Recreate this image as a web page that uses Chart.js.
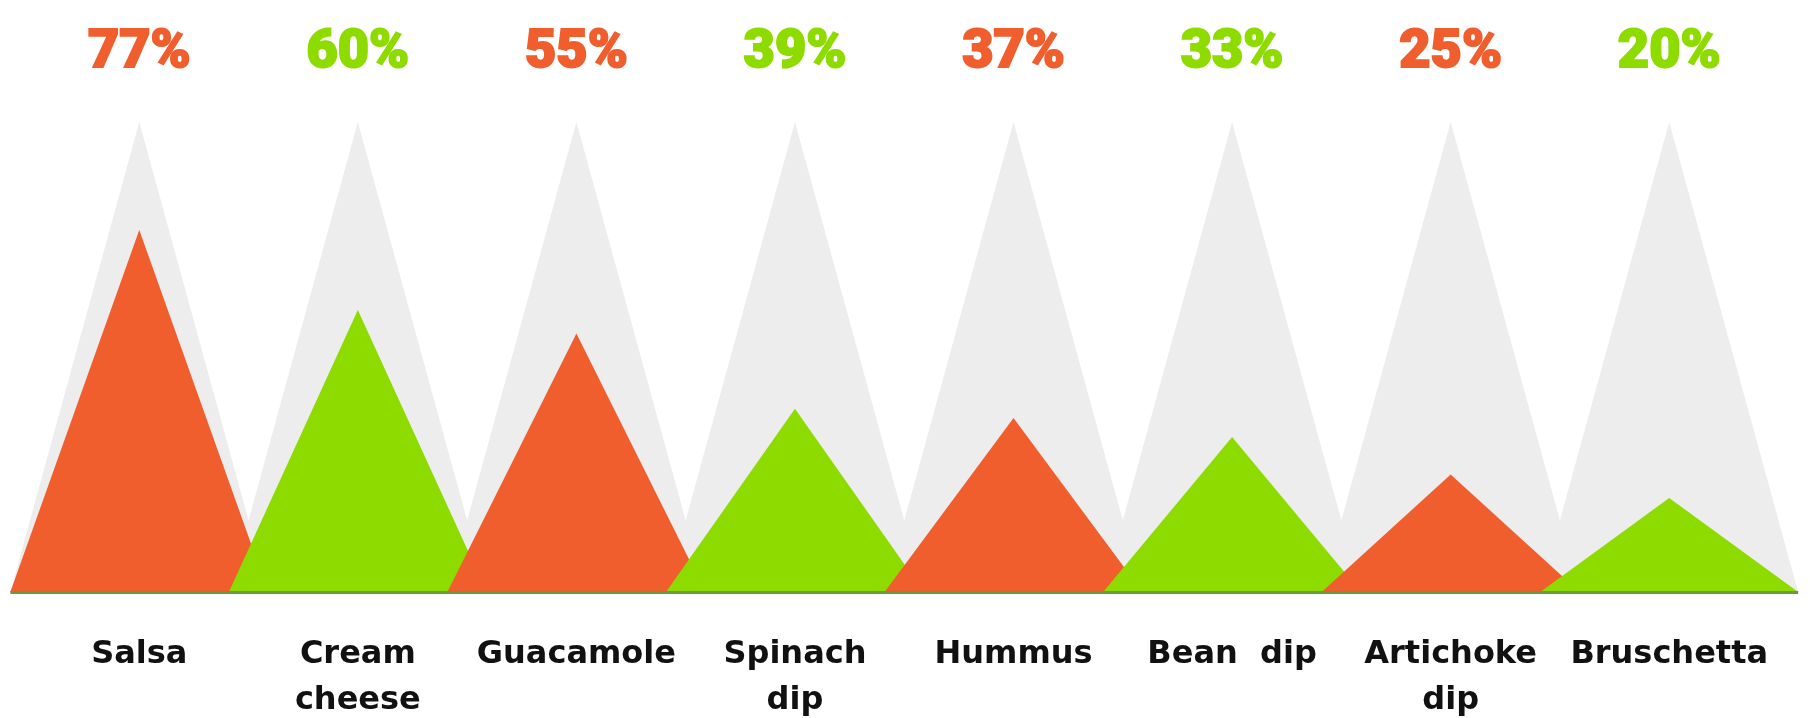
<!DOCTYPE html>
<html>
<head>
<meta charset="utf-8">
<script src="https://cdn.jsdelivr.net/npm/chart.js@4.4.1/dist/chart.umd.min.js"></script>
<style>
  html, body { margin: 0; padding: 0; background: #ffffff; }
  #wrap { width: 1810px; height: 718px; position: relative; }
</style>
</head>
<body>
<div id="wrap"><canvas id="c" width="1810" height="718"></canvas></div>
<script>
// ---- data ----
const categories = [
  ['Salsa'],
  ['Cream', 'cheese'],
  ['Guacamole'],
  ['Spinach', 'dip'],
  ['Hummus'],
  ['Bean  dip'],
  ['Artichoke', 'dip'],
  ['Bruschetta']
];
const values = [77, 60, 55, 39, 37, 33, 25, 20];
const maxValues = [100, 100, 100, 100, 100, 100, 100, 100];
const percentLabels = ['77%', '60%', '55%', '39%', '37%', '33%', '25%', '20%'];

// ---- styles ----
const ORANGE = '#F05E2E';
const GREEN = '#8EDB00';
const GRAY = '#EDEDED';
const BASELINE = '#679A43';
const barColors = [ORANGE, GREEN, ORANGE, GREEN, ORANGE, GREEN, ORANGE, GREEN];

const trianglePlugin = {
  id: 'triangles',
  beforeDatasetsDraw(chart) {
    const ctx = chart.ctx;
    const order = [1, 0]; // background peaks first, then values
    let minX = Infinity, maxX = -Infinity, baseY = 0;
    order.forEach(di => {
      const meta = chart.getDatasetMeta(di);
      const ds = chart.data.datasets[di];
      meta.data.forEach((el, i) => {
        const p = el.getProps(['x', 'y', 'base', 'width'], true);
        const hw = p.width / 2;
        ctx.save();
        ctx.beginPath();
        ctx.moveTo(p.x - hw, p.base);
        ctx.lineTo(p.x, p.y);
        ctx.lineTo(p.x + hw, p.base);
        ctx.closePath();
        ctx.fillStyle = Array.isArray(ds.backgroundColor) ? ds.backgroundColor[i] : ds.backgroundColor;
        ctx.fill();
        ctx.restore();
        minX = Math.min(minX, p.x - hw);
        maxX = Math.max(maxX, p.x + hw);
        baseY = p.base;
      });
    });
    ctx.save();
    ctx.strokeStyle = BASELINE;
    ctx.lineWidth = 3;
    ctx.beginPath();
    ctx.moveTo(minX, baseY + 0.5);
    ctx.lineTo(maxX, baseY + 0.5);
    ctx.stroke();
    ctx.restore();
    return false;
  }
};

new Chart(document.getElementById('c'), {
  type: 'bar',
  data: {
    labels: categories,
    datasets: [
      {
        label: 'Share',
        data: values,
        backgroundColor: barColors,
        grouped: false,
        categoryPercentage: 1,
        barPercentage: 1.18
      },
      {
        label: 'Max',
        data: maxValues,
        backgroundColor: GRAY,
        grouped: false,
        categoryPercentage: 1,
        barPercentage: 1.18
      }
    ]
  },
  options: {
    responsive: false,
    animation: false,
    events: [],
    layout: { padding: { left: 30, right: 31, top: -16, bottom: -46 } },
    plugins: {
      legend: { display: false },
      tooltip: { enabled: false },
      title: { display: false }
    },
    scales: {
      y: {
        display: false,
        min: 0,
        max: 100
      },
      x: {
        type: 'category',
        position: 'bottom',
        offset: true,
        grid: { display: false, drawTicks: false },
        border: { display: false },
        ticks: {
          color: '#111111',
          padding: 40,
          maxRotation: 0,
          autoSkip: false,
          font: { family: 'DejaVu Sans', size: 32, weight: 'bold', lineHeight: 1.4375 }
        }
      },
      xTop: {
        type: 'category',
        position: 'top',
        labels: percentLabels,
        offset: true,
        grid: { display: false, drawTicks: false },
        border: { display: false },
        ticks: {
          padding: 36.6,
          maxRotation: 0,
          autoSkip: false,
          color: (c) => barColors[c.index],
          textStrokeColor: (c) => barColors[c.index],
          textStrokeWidth: 2,
          font: { family: 'Roboto', size: 54, weight: '900', lineHeight: 1.2 }
        }
      }
    }
  },
  plugins: [trianglePlugin]
});
</script>
</body>
</html>
